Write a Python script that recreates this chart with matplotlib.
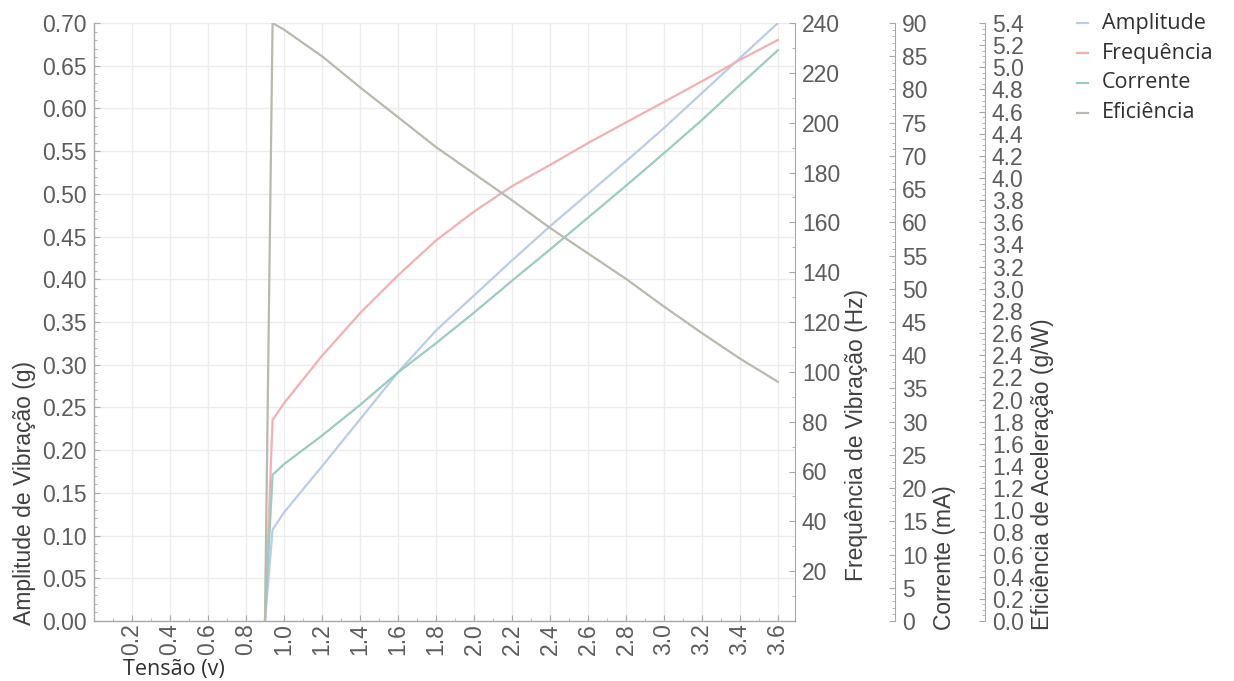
import matplotlib
matplotlib.use("Agg")
import matplotlib.pyplot as plt
from matplotlib.ticker import MultipleLocator, FixedLocator, FormatStrFormatter
from matplotlib.lines import Line2D

plt.rcParams["font.family"] = ["Liberation Sans", "DejaVu Sans"]

# ---------------- data ----------------
tensao = [0.90, 0.94, 1.0, 1.2, 1.4, 1.6, 1.8, 2.0, 2.2, 2.4, 2.6, 2.8, 3.0, 3.2, 3.4, 3.6]
amplitude = [0.0, 0.107, 0.127, 0.181, 0.236, 0.291, 0.340, 0.381, 0.422, 0.462,
             0.500, 0.538, 0.577, 0.618, 0.659, 0.700]
frequencia = [0.0, 80.7, 87.4, 106.4, 123.5, 138.7, 152.7, 164.3, 174.5, 183.0,
              191.8, 200.1, 208.3, 216.6, 225.2, 233.2]
corrente = [0.0, 22.0, 23.6, 27.9, 32.5, 37.4, 41.8, 46.4, 51.2, 55.9,
            60.7, 65.5, 70.4, 75.4, 80.7, 85.9]
eficiencia = [0.0, 5.40, 5.34, 5.10, 4.82, 4.55, 4.28, 4.04, 3.80, 3.55,
              3.32, 3.09, 2.84, 2.60, 2.37, 2.16]

series_names = ["Amplitude", "Frequência", "Corrente", "Eficiência"]
series_colors = ["#b9cdea", "#f2b0b3", "#9ccbbf", "#b9b9ad"]

x_ticks = [0.2, 0.4, 0.6, 0.8, 1.0, 1.2, 1.4, 1.6, 1.8, 2.0, 2.2, 2.4, 2.6, 2.8, 3.0, 3.2, 3.4, 3.6]
amp_ticks = [0.00, 0.05, 0.10, 0.15, 0.20, 0.25, 0.30, 0.35, 0.40, 0.45, 0.50, 0.55, 0.60, 0.65, 0.70]
freq_ticks = [20, 40, 60, 80, 100, 120, 140, 160, 180, 200, 220, 240]
corr_ticks = list(range(0, 91, 5))
efic_ticks = [round(0.2 * i, 1) for i in range(28)]

# ---------------- style ----------------
W, H = 1234, 681
UI_FONT = "Open Sans"
spine_c = "#a8a8a8"
tick_lc = "#5c5c5c"
title_c = "#404040"
fs = 16.5

fig = plt.figure(figsize=(W / 100, H / 100), dpi=100)
fig.patch.set_facecolor("white")

L, R, B, T = 94, 795, 621, 23
ax = fig.add_axes([L / W, 1 - B / H, (R - L) / W, (B - T) / H])


def style_y(a):
    a.tick_params(axis="y", which="both", direction="in", colors=spine_c,
                  labelcolor=tick_lc, labelsize=fs, pad=5)
    a.tick_params(axis="y", which="major", length=4, width=0.8)
    a.tick_params(axis="y", which="minor", length=2, width=0.6)


# main axis (amplitude)
ax.plot(tensao, amplitude, color=series_colors[0], lw=1.6, zorder=3)
ax.set_xlim(0, 3.69)
ax.set_ylim(0, 0.70)
ax.xaxis.set_major_locator(FixedLocator(x_ticks))
ax.xaxis.set_minor_locator(MultipleLocator(0.1))
ax.yaxis.set_major_locator(FixedLocator(amp_ticks))
ax.yaxis.set_minor_locator(MultipleLocator(0.01))
ax.yaxis.set_major_formatter(FormatStrFormatter("%.2f"))
ax.xaxis.set_major_formatter(FormatStrFormatter("%.1f"))
ax.grid(True, which="major", color="#ececec", lw=1.0, zorder=0)
for s in ["top", "right"]:
    ax.spines[s].set_visible(False)
for s in ["left", "bottom"]:
    ax.spines[s].set_color(spine_c)
    ax.spines[s].set_linewidth(1.0)
ax.tick_params(axis="x", which="both", direction="in", colors=spine_c,
               labelcolor=tick_lc, labelsize=fs, pad=1.5, labelrotation=90)
ax.tick_params(axis="x", which="major", length=4, width=0.8)
ax.tick_params(axis="x", which="minor", length=2, width=0.6)
style_y(ax)

# frequency axis
ax2 = ax.twinx()
ax2.plot(tensao, frequencia, color=series_colors[1], lw=1.6, zorder=3)
ax2.set_ylim(0, 240)
ax2.yaxis.set_major_locator(FixedLocator(freq_ticks))
ax2.yaxis.set_minor_locator(MultipleLocator(10))
for s in ["top", "left", "bottom"]:
    ax2.spines[s].set_visible(False)
ax2.spines["right"].set_color(spine_c)
style_y(ax2)

# current axis
ax3 = ax.twinx()
ax3.plot(tensao, corrente, color=series_colors[2], lw=1.6, zorder=3)
ax3.set_ylim(0, 90)
ax3.spines["right"].set_position(("axes", (895 - L) / (R - L)))
ax3.yaxis.set_major_locator(FixedLocator(corr_ticks))
ax3.yaxis.set_minor_locator(MultipleLocator(1))
for s in ["top", "left", "bottom"]:
    ax3.spines[s].set_visible(False)
ax3.spines["right"].set_color(spine_c)
style_y(ax3)

# efficiency axis
ax4 = ax.twinx()
ax4.plot(tensao, eficiencia, color=series_colors[3], lw=1.6, zorder=3)
ax4.set_ylim(0, 5.4)
ax4.spines["right"].set_position(("axes", (985 - L) / (R - L)))
ax4.yaxis.set_major_locator(FixedLocator(efic_ticks))
ax4.yaxis.set_minor_locator(MultipleLocator(0.05))
ax4.yaxis.set_major_formatter(FormatStrFormatter("%.1f"))
for s in ["top", "left", "bottom"]:
    ax4.spines[s].set_visible(False)
ax4.spines["right"].set_color(spine_c)
style_y(ax4)

# axis titles
fig.text(25 / W, 1 - 625 / H, "Amplitude de Vibração (g)", rotation=90,
         ha="center", va="bottom", fontsize=fs, color=title_c)
fig.text(857 / W, 1 - 581 / H, "Frequência de Vibração (Hz)", rotation=90,
         ha="center", va="bottom", fontsize=fs, color=title_c)
fig.text(944 / W, 1 - 630 / H, "Corrente (mA)", rotation=90,
         ha="center", va="bottom", fontsize=fs, color=title_c)
fig.text(1043 / W, 1 - 630 / H, "Eficiência de Aceleração (g/W)", rotation=90,
         ha="center", va="bottom", fontsize=fs, color=title_c)
fig.text(123 / W, 1 - 670 / H, "Tensão (v)", ha="left", va="center",
         fontsize=15.5, color="#303030", family=UI_FONT)

# legend
for i, (name, col) in enumerate(zip(series_names, series_colors)):
    yy = 1 - (23 + 30 * i) / H
    fig.add_artist(Line2D([1077 / W, 1088 / W], [yy, yy], transform=fig.transFigure,
                          color=col, lw=1.6))
    fig.text(1102 / W, yy, name, ha="left", va="center", fontsize=15.5,
             color="#303030", family=UI_FONT)

fig.savefig("out.png", dpi=100)
